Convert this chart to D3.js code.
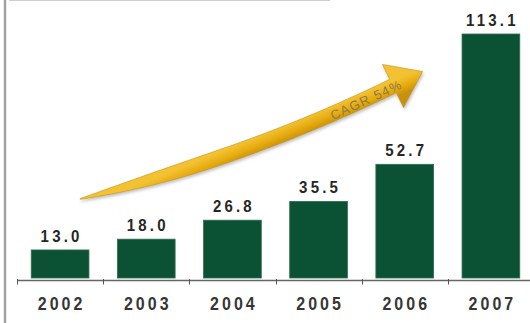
<!DOCTYPE html>
<html>
<head>
<meta charset="utf-8">
<script src="https://cdn.jsdelivr.net/npm/d3@7"></script>
<style>
  html, body { margin: 0; padding: 0; background: #fff; }
  svg { display: block; }
</style>
</head>
<body>
<svg id="chart" width="530" height="323"></svg>
<script>
// Yearly values
const years = ["2002", "2003", "2004", "2005", "2006", "2007"];
const values = [13.0, 18.0, 26.8, 35.5, 52.7, 113.1];
const valueLabels = ["13.0", "18.0", "26.8", "35.5", "52.7", "113.1"];
const growthLabel = "CAGR 54%";

const W = 530, H = 323;
const svg = d3.select("#chart");

const x = d3.scaleBand()
  .domain(years)
  .range([17, 534])
  .paddingInner(0.33)
  .paddingOuter(0.165);

const y = d3.scaleLinear()
  .domain([0, d3.max(values)])
  .range([278, 34]);

const defs = svg.append("defs");
const shadow = defs.append("filter").attr("id", "soft").attr("x", "-10%").attr("y", "-30%").attr("width", "130%").attr("height", "170%");
shadow.append("feDropShadow").attr("dx", 1).attr("dy", 2).attr("stdDeviation", 1.6)
  .attr("flood-color", "#777").attr("flood-opacity", 0.45);

// frame lines
svg.append("line").attr("x1", 5).attr("x2", 5).attr("y1", 0).attr("y2", H)
  .attr("stroke", "#a3a3a3").attr("stroke-width", 2.5);
svg.append("line").attr("x1", 9).attr("x2", 330).attr("y1", 0.5).attr("y2", 0.5)
  .attr("stroke", "#cfcfcf").attr("stroke-width", 1);

// bars
svg.append("g").selectAll("rect").data(values).join("rect")
  .attr("x", (d, i) => x(years[i]))
  .attr("y", d => y(d))
  .attr("width", x.bandwidth())
  .attr("height", d => y(0) - y(d))
  .attr("fill", "#0b5235")
  .attr("stroke", "#2f6e50")
  .attr("stroke-width", 0.8);

// value labels (slightly tall lettering)
svg.append("g").selectAll("text").data(values).join("text")
  .attr("transform", (d, i) => `translate(${x(years[i]) + x.bandwidth() / 2 + 1.5},${y(d) - 8}) scale(1,1.1)`)
  .attr("text-anchor", "middle")
  .attr("font-family", "Liberation Sans, Arial, sans-serif")
  .attr("font-weight", "bold")
  .attr("font-size", 15)
  .attr("letter-spacing", 3.2)
  .attr("fill", "#262626")
  .text((d, i) => valueLabels[i]);

// category axis
const axisY = 280.5;
const gap = x.step() * x.paddingInner() / 2;
svg.append("line").attr("x1", 17).attr("x2", W).attr("y1", axisY).attr("y2", axisY)
  .attr("stroke", "#666").attr("stroke-width", 1.5);
svg.append("g").selectAll("line").data(years).join("line")
  .attr("x1", d => Math.round(x(d) - gap) + 0.5)
  .attr("x2", d => Math.round(x(d) - gap) + 0.5)
  .attr("y1", axisY - 1.5).attr("y2", axisY + 4)
  .attr("stroke", "#555").attr("stroke-width", 1);
svg.append("g").selectAll("text").data(years).join("text")
  .attr("transform", d => `translate(${x(d) + x.bandwidth() / 2 + 1.5},310) scale(1,1.15)`)
  .attr("text-anchor", "middle")
  .attr("font-family", "Liberation Sans, Arial, sans-serif")
  .attr("font-weight", "bold")
  .attr("font-size", 16)
  .attr("letter-spacing", 3)
  .attr("fill", "#363636")
  .text(d => d);

// growth arrow: a tapered curve from the first bar towards the last
const p0 = [x(years[0]) + 49, y(values[0]) - 51];
const p1 = [250, 156];
const p2 = [393, 86];
const bez = t => [
  (1 - t) * (1 - t) * p0[0] + 2 * t * (1 - t) * p1[0] + t * t * p2[0],
  (1 - t) * (1 - t) * p0[1] + 2 * t * (1 - t) * p1[1] + t * t * p2[1]
];
const tan = t => {
  const dx = 2 * (1 - t) * (p1[0] - p0[0]) + 2 * t * (p2[0] - p1[0]);
  const dy = 2 * (1 - t) * (p1[1] - p0[1]) + 2 * t * (p2[1] - p1[1]);
  const l = Math.hypot(dx, dy);
  return [dx / l, dy / l];
};
const half = t => {
  const u = Math.min(t / 0.42, 1);
  return 0.4 + 7.1 * (1 - (1 - u) * (1 - u));
};
const N = 60;
const upper = [], lower = [];
for (let i = 0; i <= N; i++) {
  const t = i / N, p = bez(t), d = tan(t), w = half(t);
  const n = [d[1], -d[0]];
  upper.push([p[0] + n[0] * w, p[1] + n[1] * w]);
  lower.push([p[0] - n[0] * w, p[1] - n[1] * w]);
}
const dEnd = tan(1), nEnd = [dEnd[1], -dEnd[0]];
const headHalf = 24, headLen = 33;
const tip = [p2[0] + dEnd[0] * headLen, p2[1] + dEnd[1] * headLen];
const cornerA = [p2[0] + nEnd[0] * headHalf, p2[1] + nEnd[1] * headHalf];
const cornerB = [p2[0] - nEnd[0] * headHalf, p2[1] - nEnd[1] * headHalf];
const outline = upper.concat([cornerA, tip, cornerB]).concat(lower.slice().reverse());

// gradient runs across the shaft (perpendicular to its general direction)
const mid = bez(0.7), nm = [tan(0.7)[1], -tan(0.7)[0]];
const grad = defs.append("linearGradient").attr("id", "gold")
  .attr("gradientUnits", "userSpaceOnUse")
  .attr("x1", mid[0] + nm[0] * 8).attr("y1", mid[1] + nm[1] * 8)
  .attr("x2", mid[0] - nm[0] * 8).attr("y2", mid[1] - nm[1] * 8);
grad.append("stop").attr("offset", "0%").attr("stop-color", "#f3c232");
grad.append("stop").attr("offset", "55%").attr("stop-color", "#e6ab10");
grad.append("stop").attr("offset", "100%").attr("stop-color", "#c89108");

svg.append("path")
  .attr("d", d3.line()(outline) + "Z")
  .attr("fill", "url(#gold)")
  .attr("stroke", "#c8920a")
  .attr("stroke-width", 0.6)
  .attr("filter", "url(#soft)");

const tt = 0.9, tp = bez(tt), td = tan(tt);
const ang = Math.atan2(td[1], td[0]) * 180 / Math.PI;
svg.append("text")
  .attr("transform", `translate(${tp[0] + 2},${tp[1]}) rotate(${ang})`)
  .attr("text-anchor", "middle")
  .attr("dy", "0.36em")
  .attr("font-family", "Liberation Sans, Arial, sans-serif")
  .attr("font-size", 13)
  .attr("letter-spacing", 1.3)
  .attr("fill", "#8d7a4a")
  .text(growthLabel);
</script>
</body>
</html>
